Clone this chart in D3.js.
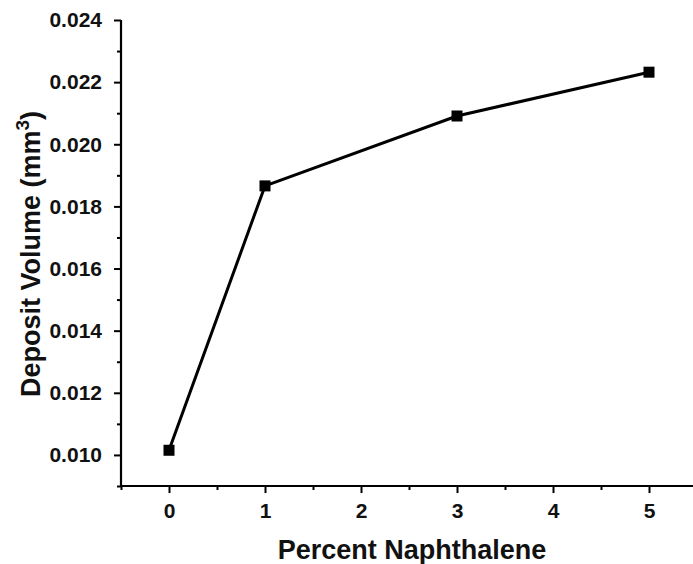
<!DOCTYPE html>
<html>
<head>
  <meta charset="utf-8">
  <title>Deposit Volume vs Percent Naphthalene</title>
  <script src="https://d3js.org/d3.v7.min.js"></script>
  <style>
    body { margin: 0; background: #fff; }
    text { font-family: "Liberation Sans", Arial, sans-serif; font-weight: bold; fill: #111; }
    .tick text { font-size: 21px; }
  </style>
</head>
<body>
  <div id="chart"></div>
  <script>
    "use strict"
    // dados
    var percentNaftaleno = [0, 1, 3, 5];
    var volumeDeposito = [0.01015, 0.01866, 0.02091, 0.02232];
    var ticksX = [0, 1, 2, 3, 4, 5];
    var ticksY = [0.010, 0.012, 0.014, 0.016, 0.018, 0.020, 0.022, 0.024];

    var larguraSVG = 693, alturaSVG = 564;
    var margin = {top: 20, right: -4, bottom: 78, left: 121};

    var svg = d3.select('#chart').append('svg')
      .attr('width', larguraSVG)
      .attr('height', alturaSVG);

    var x = d3.scaleLinear().domain([-0.5, 5.5]).range([margin.left, larguraSVG - margin.right]);
    var y = d3.scaleLinear().domain([0.009, 0.024]).range([alturaSVG - margin.bottom, margin.top]);

    // ticks menores nas metades
    var menoresX = d3.range(-0.5, 5.51, 0.5).filter(v => Math.abs(v % 1) > 0.1);
    var menoresY = d3.range(0.009, 0.0241, 0.001).filter(v => Math.round(v * 1000) % 2 === 1);

    var eixoX = svg.append('g')
      .attr('transform', 'translate(0,' + y.range()[0] + ')');
    eixoX.call(d3.axisBottom(x).tickValues(menoresX).tickSize(4).tickFormat(''))
      .call(g => g.select('.domain').remove());
    eixoX.append('g')
      .call(d3.axisBottom(x).tickValues(ticksX).tickSize(7).tickPadding(10).tickFormat(d3.format('d')))
      .attr('font-size', 21)
      .call(g => g.select('.domain').attr('stroke-width', 2.2).attr('d', 'M' + x.range()[0] + ',0H' + x.range()[1]));
    eixoX.selectAll('line').attr('stroke-width', 2);
    eixoX.selectAll('text').attr('fill', '#111');

    var eixoY = svg.append('g')
      .attr('transform', 'translate(' + x.range()[0] + ',0)');
    eixoY.call(d3.axisLeft(y).tickValues(menoresY).tickSize(4).tickFormat(''))
      .call(g => g.select('.domain').remove());
    eixoY.append('g')
      .call(d3.axisLeft(y).tickValues(ticksY).tickSize(7).tickPadding(12).tickFormat(d3.format('.3f')))
      .attr('font-size', 21)
      .call(g => g.select('.domain').attr('stroke-width', 2.2).attr('d', 'M0,' + y.range()[0] + 'V' + y.range()[1]));
    eixoY.selectAll('line').attr('stroke-width', 2);
    eixoY.selectAll('text').attr('fill', '#111');

    // linha e marcadores
    var linha = d3.line()
      .x((d, i) => x(percentNaftaleno[i]))
      .y(d => y(d));
    svg.append('path')
      .datum(volumeDeposito)
      .attr('fill', 'none')
      .attr('stroke', '#000')
      .attr('stroke-width', 3)
      .attr('d', linha);

    var lado = 11;
    svg.selectAll('rect.ponto')
      .data(volumeDeposito)
      .enter().append('rect')
        .attr('class', 'ponto')
        .attr('x', (d, i) => x(percentNaftaleno[i]) - lado / 2)
        .attr('y', d => y(d) - lado / 2)
        .attr('width', lado)
        .attr('height', lado)
        .attr('fill', '#000');

    // titulos dos eixos
    svg.append('text')
      .attr('x', 412)
      .attr('y', 559)
      .attr('text-anchor', 'middle')
      .style('font-size', '27px')
      .text('Percent Naphthalene');

    var tituloY = svg.append('text')
      .attr('transform', 'translate(40,254) rotate(-90)')
      .attr('text-anchor', 'middle')
      .style('font-size', '27px');
    tituloY.append('tspan').text('Deposit Volume (mm');
    tituloY.append('tspan').attr('dy', -11).style('font-size', '19px').text('3');
    tituloY.append('tspan').attr('dy', 11).text(')');
  </script>
</body>
</html>
